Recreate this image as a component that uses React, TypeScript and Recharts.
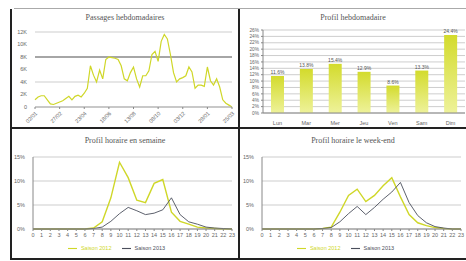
import { LineChart, Line, BarChart, Bar, XAxis, YAxis, CartesianGrid, Legend, ReferenceLine, LabelList } from 'recharts';

// weekly passages (thousands)
const weeklyPassages = [
  1.15, 1.6, 1.8, 1.8, 1.15, 0.5, 0.4, 0.6, 0.8, 1.0,
  1.35, 1.7, 1.15, 1.7, 1.9, 1.6, 2.2, 3.0, 6.6, 5.1,
  4.0, 5.9, 4.5, 7.6, 8.0, 7.9, 7.8, 7.6, 6.6, 4.5,
  4.2, 5.5, 6.4, 4.5, 3.2, 5.0, 5.0, 5.8, 8.4, 8.9,
  7.3, 10.5, 11.6, 10.9, 8.4, 5.5, 4.0, 4.5, 4.7, 5.0,
  6.4, 5.6, 3.0, 3.5, 3.5, 3.3, 6.4, 4.2, 3.5, 4.5,
  3.2, 1.15, 0.6, 0.3, 0,
];
const weekTickIdx = [0, 8, 16, 24, 32, 40, 48, 56, 64];
const weekTickLabels = ['02/01', '27/02', '23/04', '18/06', '13/08', '08/10', '03/12', '28/01', '25/03'];
const passageTicks = [0, 2000, 4000, 6000, 8000, 10000, 12000];

const days = ['Lun', 'Mar', 'Mer', 'Jeu', 'Ven', 'Sam', 'Dim'];
const dayShare = [11.6, 13.8, 15.4, 12.9, 8.6, 13.3, 24.4];
const shareTicks = [0, 2, 4, 6, 8, 10, 12, 14, 16, 18, 20, 22, 24, 26];

const hours = [0, 1, 2, 3, 4, 5, 6, 7, 8, 9, 10, 11, 12, 13, 14, 15, 16, 17, 18, 19, 20, 21, 22, 23];
const seriesA = 'Saison 2012';
const seriesB = 'Saison 2013';
const weekdayA = [0, 0, 0, 0, 0, 0, 0, 0.2, 1.5, 6.5, 13.9, 10.7, 6, 5.5, 9.5, 10.3, 3.5, 1.6, 1, 0.4, 0.2, 0.1, 0, 0];
const weekdayB = [0, 0, 0, 0, 0, 0, 0, 0.1, 0.4, 1.6, 3.2, 4.5, 3.8, 3, 3.3, 4, 6.5, 3, 1.5, 1, 0.4, 0.2, 0.1, 0];
const weekendA = [0, 0, 0, 0, 0, 0, 0, 0.1, 0.4, 3.5, 7, 8.3, 5.7, 7, 9, 10.7, 6.7, 3, 1.3, 0.7, 0.3, 0.1, 0, 0];
const weekendB = [0, 0, 0, 0, 0, 0, 0, 0.1, 0.3, 1.5, 3.2, 4.7, 3, 4.5, 6.2, 7.7, 9.7, 5.5, 2.8, 1.3, 0.5, 0.2, 0, 0];
const hourTicks = [0, 5, 10, 15];

const YELLOW = '#cfd728';
const DARK = '#4b4f5c';
const GRID = '#b8b8b8';
const FONT = 'Liberation Sans, sans-serif';
const tick = { fontSize: 5.5, fill: '#666', fontFamily: FONT };

const weeklyData = weeklyPassages.map((v, i) => ({ i, v: v * 1000 }));
const dayData = days.map((d, i) => ({ day: d, share: dayShare[i] }));
const weekdayData = hours.map((h, i) => ({ h, a: weekdayA[i], b: weekdayB[i] }));
const weekendData = hours.map((h, i) => ({ h, a: weekendA[i], b: weekendB[i] }));

function Title({ text, left, top, width }: { text: string; left: number; top: number; width: number }) {
  return (
    <div style={{ position: 'absolute', left, top, width, textAlign: 'center', fontSize: 8, color: '#555', fontFamily: 'Liberation Serif, serif' }}>
      {text}
    </div>
  );
}

function HourChart({ data }: { data: any[] }) {
  return (
    <LineChart width={226} height={130} data={data} margin={{ top: 29, right: 5, left: 0, bottom: 0 }}>
      <CartesianGrid vertical={false} stroke={GRID} strokeWidth={0.7} />
      <XAxis dataKey="h" type="number" domain={[0, 23]} ticks={hours} interval={0} tick={tick} tickLine={{ stroke: '#888' }} tickSize={2} axisLine={{ stroke: '#888' }} height={12} />
      <YAxis domain={[0, 15]} ticks={hourTicks} tickFormatter={(v) => `${v}%`} tick={tick} tickLine={false} axisLine={{ stroke: '#888' }} width={22} />
      <Legend verticalAlign="bottom" height={14} iconType="plainline" iconSize={9} wrapperStyle={{ fontSize: 5.5, fontFamily: FONT, color: '#666', paddingTop: 3 }} />
      <Line dataKey="a" name={seriesA} stroke={YELLOW} strokeWidth={1.4} dot={false} isAnimationActive={false} />
      <Line dataKey="b" name={seriesB} stroke={DARK} strokeWidth={0.9} dot={false} isAnimationActive={false} />
    </LineChart>
  );
}

export default function App() {
  return (
    <div style={{ position: 'absolute', left: 0, top: 0, width: 466, height: 261, background: '#fff', overflow: 'hidden' }}>
      {/* frame */}
      <div style={{ position: 'absolute', left: 14, top: 8, width: 452, height: 1, background: '#aaa' }} />
      <div style={{ position: 'absolute', left: 10, top: 9, width: 1.5, height: 250, background: '#222' }} />
      <div style={{ position: 'absolute', left: 238, top: 9, width: 1.5, height: 250, background: '#222' }} />
      <div style={{ position: 'absolute', left: 10, top: 127, width: 456, height: 1.5, background: '#222' }} />
      <div style={{ position: 'absolute', left: 10, top: 258, width: 456, height: 1.5, background: '#222' }} />

      <Title text="Passages hebdomadaires" left={11} top={13} width={228} />
      <div style={{ position: 'absolute', left: 11, top: 9 }}>
        <LineChart width={228} height={119} data={weeklyData} margin={{ top: 23, right: 7, left: 0, bottom: 0 }}>
          <CartesianGrid vertical={false} stroke={GRID} strokeWidth={0.7} />
          <ReferenceLine y={8000} stroke="#666" strokeWidth={1} />
          <XAxis dataKey="i" type="number" domain={[0, 64]} ticks={weekTickIdx} interval={0}
            tickFormatter={(v) => weekTickLabels[weekTickIdx.indexOf(v)]}
            tick={{ ...tick, angle: -45, textAnchor: 'end' } as any} tickSize={2} tickLine={{ stroke: '#888' }} axisLine={{ stroke: '#aaa' }} height={21} />
          <YAxis domain={[0, 12000]} ticks={passageTicks} tickFormatter={(v) => (v === 0 ? '0' : `${v / 1000}K`)} tick={tick} tickLine={false} axisLine={false} width={24} />
          <Line dataKey="v" stroke={YELLOW} strokeWidth={1.2} dot={false} isAnimationActive={false} />
        </LineChart>
      </div>

      <Title text="Profil hebdomadaire" left={240} top={13} width={226} />
      <div style={{ position: 'absolute', left: 240, top: 9 }}>
        <BarChart width={226} height={119} data={dayData} margin={{ top: 21, right: 1, left: 0, bottom: 0 }}>
          <defs>
            <linearGradient id="barFill" x1="0" y1="0" x2="0" y2="1">
              <stop offset="0%" stopColor="#d3db2c" />
              <stop offset="100%" stopColor="#eef29a" />
            </linearGradient>
          </defs>
          <CartesianGrid vertical={false} stroke={GRID} strokeWidth={0.7} />
          <XAxis dataKey="day" tick={tick} tickLine={false} axisLine={{ stroke: '#888' }} height={15} />
          <YAxis domain={[0, 26]} ticks={shareTicks} interval={0} tickFormatter={(v) => `${v}%`} tick={{ ...tick, fontSize: 4.8 }} tickSize={2} axisLine={{ stroke: '#888' }} tickLine={{ stroke: '#888' }} width={23} />
          <Bar dataKey="share" fill="url(#barFill)" barSize={13} isAnimationActive={false}>
            <LabelList dataKey="share" position="top" offset={2} formatter={(v: any) => `${Number(v).toFixed(1)}%`} style={{ fontSize: 5, fill: '#555', fontFamily: FONT }} />
          </Bar>
        </BarChart>
      </div>

      <Title text="Profil horaire en semaine" left={11} top={136} width={228} />
      <div style={{ position: 'absolute', left: 11, top: 128 }}>
        <HourChart data={weekdayData} />
      </div>

      <Title text="Profil horaire le week-end" left={240} top={136} width={226} />
      <div style={{ position: 'absolute', left: 240, top: 128 }}>
        <HourChart data={weekendData} />
      </div>
    </div>
  );
}
